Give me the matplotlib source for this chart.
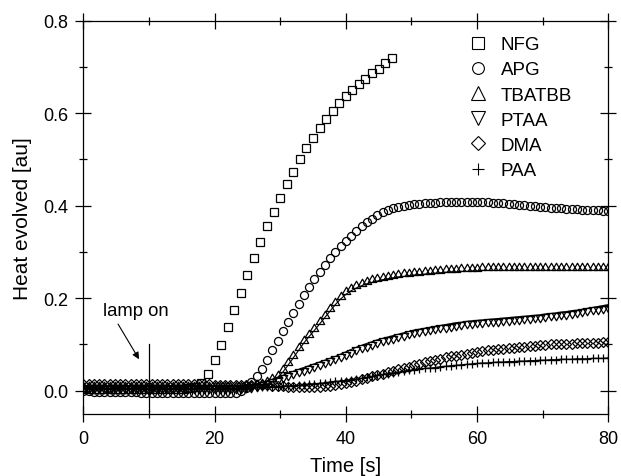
import numpy as np
import matplotlib
matplotlib.use("Agg")
import matplotlib.pyplot as plt
from matplotlib.path import Path
from matplotlib.lines import Line2D

plt.rcParams['font.family'] = ['Liberation Sans', 'DejaVu Sans']

# ---------------- data ----------------
t_nfg = [0, 1, 2, 3, 4, 5, 6, 7, 8, 9, 10, 11, 12, 13, 14, 15, 16, 17, 18, 19,
         20, 21, 22, 23, 24, 25, 26, 27, 28, 29, 30, 31, 32, 33, 34, 35, 36, 37,
         38, 39, 40, 41, 42, 43, 44, 45, 46, 47]
nfg = [0.004, 0.004, 0.004, 0.004, 0.004, 0.004, 0.004, 0.004, 0.004, 0.004,
       0.004, 0.004, 0.004, 0.004, 0.004, 0.004, 0.005, 0.008, 0.016, 0.036,
       0.067, 0.099, 0.137, 0.174, 0.211, 0.250, 0.286, 0.321, 0.356, 0.386,
       0.416, 0.446, 0.473, 0.500, 0.524, 0.547, 0.567, 0.587, 0.605, 0.622,
       0.637, 0.651, 0.663, 0.675, 0.686, 0.696, 0.708, 0.719]

t = [0.0, 0.8, 1.6, 2.4, 3.2, 4.0, 4.8, 5.6, 6.4, 7.2, 8.0, 8.8, 9.6, 10.4, 11.2,
     12.0, 12.8, 13.6, 14.4, 15.2, 16.0, 16.8, 17.6, 18.4, 19.2, 20.0, 20.8, 21.6,
     22.4, 23.2, 24.0, 24.8, 25.6, 26.4, 27.2, 28.0, 28.8, 29.6, 30.4, 31.2, 32.0,
     32.8, 33.6, 34.4, 35.2, 36.0, 36.8, 37.6, 38.4, 39.2, 40.0, 40.8, 41.6, 42.4,
     43.2, 44.0, 44.8, 45.6, 46.4, 47.2, 48.0, 48.8, 49.6, 50.4, 51.2, 52.0, 52.8,
     53.6, 54.4, 55.2, 56.0, 56.8, 57.6, 58.4, 59.2, 60.0, 60.8, 61.6, 62.4, 63.2,
     64.0, 64.8, 65.6, 66.4, 67.2, 68.0, 68.8, 69.6, 70.4, 71.2, 72.0, 72.8, 73.6,
     74.4, 75.2, 76.0, 76.8, 77.6, 78.4, 79.2, 80.0]

apg = [-0.001, -0.001, -0.002, -0.002, -0.002, -0.002, -0.003, -0.003, -0.003, -0.003,
       -0.003, -0.004, -0.004, -0.004, -0.005, -0.005, -0.005, -0.006, -0.006, -0.006,
       -0.006, -0.006, -0.006, -0.006, -0.006, -0.006, -0.006, -0.006, -0.005, -0.004,
       -0.001, 0.006, 0.019, 0.032, 0.046, 0.066, 0.087, 0.107, 0.128, 0.149,
       0.169, 0.188, 0.206, 0.224, 0.242, 0.257, 0.272, 0.287, 0.300, 0.313,
       0.324, 0.335, 0.346, 0.356, 0.364, 0.372, 0.379, 0.386, 0.391, 0.395,
       0.398, 0.400, 0.402, 0.403, 0.404, 0.405, 0.406, 0.406, 0.407, 0.407,
       0.407, 0.408, 0.408, 0.408, 0.408, 0.408, 0.407, 0.407, 0.406, 0.406,
       0.405, 0.404, 0.403, 0.402, 0.401, 0.400, 0.399, 0.398, 0.397, 0.396,
       0.395, 0.394, 0.393, 0.393, 0.392, 0.391, 0.391, 0.390, 0.390, 0.389,
       0.389]

tbatbb = [0.003, 0.003, 0.003, 0.003, 0.003, 0.003, 0.003, 0.003, 0.003, 0.003,
          0.003, 0.003, 0.003, 0.003, 0.003, 0.003, 0.003, 0.003, 0.003, 0.003,
          0.003, 0.003, 0.003, 0.003, 0.003, 0.003, 0.003, 0.003, 0.003, 0.003,
          0.004, 0.005, 0.006, 0.008, 0.010, 0.014, 0.020, 0.028, 0.040, 0.055,
          0.071, 0.087, 0.103, 0.117, 0.130, 0.144, 0.158, 0.172, 0.186, 0.198,
          0.208, 0.216, 0.222, 0.227, 0.231, 0.234, 0.237, 0.240, 0.242, 0.244,
          0.246, 0.247, 0.249, 0.250, 0.251, 0.252, 0.253, 0.254, 0.255, 0.256,
          0.257, 0.257, 0.258, 0.258, 0.259, 0.259, 0.260, 0.260, 0.260, 0.260,
          0.260, 0.260, 0.260, 0.260, 0.260, 0.260, 0.260, 0.260, 0.260, 0.260,
          0.260, 0.260, 0.260, 0.260, 0.260, 0.260, 0.260, 0.260, 0.260, 0.260,
          0.260]

ptaa = [0.011, 0.011, 0.011, 0.011, 0.011, 0.011, 0.011, 0.011, 0.011, 0.011,
        0.011, 0.011, 0.011, 0.011, 0.011, 0.011, 0.011, 0.011, 0.011, 0.011,
        0.011, 0.011, 0.011, 0.011, 0.011, 0.011, 0.011, 0.011, 0.011, 0.011,
        0.011, 0.012, 0.013, 0.015, 0.018, 0.021, 0.025, 0.029, 0.033, 0.038,
        0.042, 0.046, 0.050, 0.054, 0.058, 0.062, 0.066, 0.070, 0.074, 0.079,
        0.084, 0.089, 0.094, 0.098, 0.102, 0.106, 0.110, 0.113, 0.116, 0.119,
        0.122, 0.125, 0.128, 0.131, 0.133, 0.135, 0.137, 0.139, 0.141, 0.143,
        0.145, 0.147, 0.148, 0.150, 0.151, 0.152, 0.153, 0.154, 0.155, 0.156,
        0.157, 0.158, 0.159, 0.160, 0.161, 0.162, 0.163, 0.164, 0.166, 0.167,
        0.168, 0.170, 0.171, 0.173, 0.174, 0.176, 0.178, 0.180, 0.182, 0.184,
        0.186]

dma = [0.015, 0.015, 0.015, 0.015, 0.015, 0.015, 0.015, 0.015, 0.015, 0.015,
       0.015, 0.015, 0.015, 0.014, 0.014, 0.014, 0.014, 0.014, 0.014, 0.014,
       0.014, 0.014, 0.014, 0.014, 0.014, 0.013, 0.013, 0.013, 0.013, 0.013,
       0.013, 0.013, 0.013, 0.013, 0.013, 0.012, 0.011, 0.010, 0.010, 0.009,
       0.009, 0.009, 0.009, 0.009, 0.009, 0.009, 0.010, 0.011, 0.012, 0.014,
       0.016, 0.019, 0.022, 0.025, 0.028, 0.031, 0.034, 0.037, 0.040, 0.043,
       0.046, 0.049, 0.052, 0.055, 0.058, 0.061, 0.064, 0.067, 0.069, 0.072,
       0.074, 0.076, 0.078, 0.080, 0.082, 0.084, 0.086, 0.087, 0.089, 0.090,
       0.091, 0.092, 0.093, 0.094, 0.095, 0.096, 0.097, 0.098, 0.099, 0.100,
       0.100, 0.101, 0.102, 0.102, 0.103, 0.103, 0.104, 0.104, 0.104, 0.105,
       0.105]

paa = [0.005, 0.005, 0.005, 0.005, 0.005, 0.005, 0.005, 0.005, 0.005, 0.005,
       0.005, 0.005, 0.005, 0.005, 0.005, 0.005, 0.005, 0.005, 0.005, 0.005,
       0.005, 0.005, 0.005, 0.005, 0.005, 0.005, 0.006, 0.006, 0.006, 0.006,
       0.006, 0.006, 0.007, 0.007, 0.008, 0.008, 0.009, 0.009, 0.010, 0.010,
       0.011, 0.012, 0.013, 0.014, 0.015, 0.016, 0.017, 0.019, 0.020, 0.021,
       0.022, 0.024, 0.025, 0.027, 0.029, 0.031, 0.033, 0.035, 0.037, 0.039,
       0.040, 0.042, 0.044, 0.045, 0.047, 0.048, 0.049, 0.050, 0.052, 0.053,
       0.054, 0.055, 0.056, 0.057, 0.058, 0.059, 0.060, 0.060, 0.061, 0.062,
       0.062, 0.063, 0.063, 0.064, 0.064, 0.065, 0.065, 0.066, 0.066, 0.067,
       0.067, 0.068, 0.068, 0.068, 0.069, 0.069, 0.069, 0.070, 0.070, 0.070,
       0.071]

labels = ["NFG", "APG", "TBATBB", "PTAA", "DMA", "PAA"]
x_ticks = [0, 20, 40, 60, 80]
y_ticks = [0.0, 0.2, 0.4, 0.6, 0.8]

# ---------------- figure ----------------
fig = plt.figure(figsize=(6.21, 4.77), dpi=100)
ax = fig.add_axes([0.1341, 0.1304, 0.8454, 0.8241])

# triangle markers whose base sits on the data point (line runs along the base)
up_tri = Path([(-1, 0), (1, 0), (0, 1.73), (-1, 0)],
              [Path.MOVETO, Path.LINETO, Path.LINETO, Path.CLOSEPOLY])
dn_tri = Path([(-1, 0), (1, 0), (0, -1.73), (-1, 0)],
              [Path.MOVETO, Path.LINETO, Path.LINETO, Path.CLOSEPOLY])

mk = dict(mfc='none', mec='black', mew=0.9)
ax.plot(t_nfg, nfg, ls='none', marker='s', ms=5.3, **mk)
ax.plot(t, apg, ls='none', marker='o', ms=5.8, **mk)
ax.plot(t, tbatbb, ls='-', color='black', lw=0.8, marker=up_tri, ms=10.5, **mk)
ax.plot(t, ptaa, ls='-', color='black', lw=0.8, marker=dn_tri, ms=10.5, **mk)
ax.plot(t, dma, ls='none', marker='D', ms=5.0, **mk)
ax.plot(t, paa, ls='-', color='black', lw=0.8, marker='+', ms=5.8, **mk)

# lamp-on annotation
ax.plot([10, 10], [0.10, -0.045], color='black', lw=0.9)
ax.annotate("", xy=(8.5, 0.068), xytext=(5.3, 0.144),
            arrowprops=dict(arrowstyle='-|>', color='black', lw=0.8,
                            mutation_scale=10, shrinkA=0, shrinkB=0))
ax.text(3.0, 0.163, "lamp on", fontsize=13.3, va='baseline', ha='left')

ax.set_xlim(0, 80)
ax.set_ylim(-0.05, 0.8)
ax.set_xticks(x_ticks)
ax.set_yticks(y_ticks)
ax.set_yticklabels([f"{v:.1f}" for v in y_ticks])
ax.set_xticks([10, 30, 50, 70], minor=True)
ax.set_yticks([0.1, 0.3, 0.5, 0.7], minor=True)
ax.tick_params(which='both', direction='inout', top=True, right=True,
               labelsize=13, width=0.9, color='black')
ax.tick_params(which='major', length=11, pad=6)
ax.tick_params(which='minor', length=6)
ax.tick_params(axis='y', which='major', pad=5)
for s in ax.spines.values():
    s.set_linewidth(0.9)

ax.set_xlabel("Time [s]", fontsize=14.5, labelpad=7)
ax.set_ylabel("Heat evolved [au]", fontsize=15, labelpad=8)

handles = [Line2D([], [], ls='none', marker=m, ms=s, mfc='none', mec='black', mew=0.8)
           for m, s in zip(['s', 'o', '^', 'v', 'D', '+'], [8.0, 8.5, 9.5, 9.5, 7.5, 9.0])]
ax.legend(handles, labels, loc='upper left', bbox_to_anchor=(0.719, 0.98),
          frameon=False, fontsize=13.5, handlelength=1.0, handletextpad=0.73,
          labelspacing=0.43, borderaxespad=0)

fig.savefig("out.png", dpi=100)
